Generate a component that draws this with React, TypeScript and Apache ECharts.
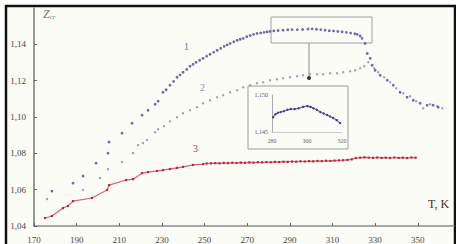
import React, { useEffect, useRef } from "react";
import * as echarts from "echarts";

// ---- data ----
const xTicks = [170, 190, 210, 230, 250, 270, 290, 310, 330, 350];
const yTicks = [1.04, 1.06, 1.08, 1.1, 1.12, 1.14];
const insetXTicks = [280, 300, 320];
const insetYTicks = [1.145, 1.15];

// curve 1
const s1T = [178.4, 188.3, 193.0, 199.1, 204.7, 205.2, 211.3, 216.0, 220.7, 223.5, 226.8, 228.2, 230.5, 232.0, 233.8, 235.5, 237.1, 238.5, 239.9, 241.6, 243.2, 244.6, 246.0, 247.7, 249.3, 251.0, 252.6, 254.3, 255.9, 257.6, 259.2, 260.6, 262.0, 263.7, 265.3, 266.7, 268.1, 269.8, 271.4, 273.0, 274.6, 276.3, 277.9, 279.3, 280.7, 282.5, 284.5, 286.8, 289.0, 291.0, 293.5, 296.0, 298.5, 300.5, 302.5, 304.5, 306.5, 308.5, 310.5, 312.5, 314.5, 316.5, 318.5, 320.5, 321.6, 323.0, 323.9, 325.3, 326.3, 327.7, 328.6, 330.0, 332.4, 335.7, 338.5, 341.7, 345.0, 347.9, 351.1, 354.4, 357.2, 359.6];
const s1Z = [1.0592, 1.0636, 1.0675, 1.0746, 1.0801, 1.0862, 1.0911, 1.0966, 1.101, 1.1037, 1.107, 1.1087, 1.1136, 1.115, 1.1175, 1.1196, 1.1219, 1.1232, 1.1246, 1.1262, 1.1279, 1.129, 1.1301, 1.1312, 1.1323, 1.1335, 1.1345, 1.1357, 1.1367, 1.1378, 1.1389, 1.1397, 1.1405, 1.1414, 1.1422, 1.1428, 1.1433, 1.1442, 1.1449, 1.1455, 1.146, 1.1463, 1.1466, 1.1469, 1.1471, 1.1474, 1.1476, 1.1478, 1.148, 1.1481, 1.1481, 1.1482, 1.1484, 1.1485, 1.1483, 1.1481, 1.1478, 1.1475, 1.1474, 1.1471, 1.1469, 1.1466, 1.1462, 1.1458, 1.1455, 1.1446, 1.1433, 1.1405, 1.135, 1.1323, 1.1285, 1.1257, 1.123, 1.1202, 1.1175, 1.1136, 1.1109, 1.1092, 1.1076, 1.1065, 1.1065, 1.1054];

// curve 2
const s2T = [176.1, 193.0, 201.0, 204.7, 211.3, 216.5, 218.8, 221.1, 223.0, 226.8, 228.2, 231.0, 233.8, 237.1, 239.9, 243.2, 246.5, 249.3, 252.6, 255.9, 258.7, 262.0, 265.3, 268.1, 271.4, 274.6, 277.5, 280.7, 284.0, 286.8, 290.1, 293.4, 296.2, 299.5, 302.8, 305.6, 308.9, 312.2, 315.0, 318.3, 320.6, 323.0, 324.9, 326.8, 329.6, 331.4, 334.2, 337.1, 339.9, 343.2, 346.4, 349.3, 352.5, 355.8, 359.1, 361.5];
const s2Z = [1.0548, 1.0598, 1.0664, 1.0713, 1.0752, 1.0801, 1.0845, 1.0856, 1.0873, 1.0916, 1.0933, 1.0949, 1.0977, 1.0999, 1.1021, 1.1037, 1.1054, 1.1076, 1.1092, 1.1109, 1.112, 1.1136, 1.1147, 1.1164, 1.1175, 1.1186, 1.1191, 1.1202, 1.1208, 1.1213, 1.1219, 1.1224, 1.123, 1.1235, 1.1235, 1.1235, 1.1241, 1.1241, 1.1246, 1.1252, 1.1257, 1.1268, 1.1279, 1.1301, 1.1268, 1.1246, 1.1219, 1.1191, 1.1158, 1.1131, 1.1114, 1.1087, 1.1048, 1.107, 1.1059, 1.1048];

// curve 3
const s3T = [175.2, 178.4, 183.6, 185.9, 188.3, 197.2, 204.3, 205.2, 213.2, 216.5, 220.7, 223.5, 227.7, 230.5, 233.8, 237.1, 239.9, 244.6, 249.3, 251, 253, 255, 257, 259, 261, 263, 265, 267, 269, 271, 273, 275, 277, 279, 281, 283, 285, 287, 289, 291, 293, 295, 297, 299, 301, 303, 305, 307, 309, 311, 313, 315, 317, 319, 321, 323, 325, 327, 329, 331, 333, 335, 337, 339, 341, 343, 345, 347, 349];
const s3Z = [1.0444, 1.0455, 1.0499, 1.051, 1.0537, 1.0554, 1.0598, 1.0625, 1.0653, 1.0658, 1.0691, 1.0697, 1.0703, 1.0708, 1.0714, 1.072, 1.0725, 1.0736, 1.0741, 1.0744, 1.0745, 1.0746, 1.0745, 1.0747, 1.0746, 1.0748, 1.0747, 1.0749, 1.0748, 1.075, 1.0749, 1.0751, 1.075, 1.0752, 1.0751, 1.0753, 1.0752, 1.0754, 1.0753, 1.0755, 1.0754, 1.0756, 1.0755, 1.0757, 1.0756, 1.0758, 1.0757, 1.0759, 1.0758, 1.076, 1.0761, 1.0762, 1.0764, 1.0767, 1.0774, 1.0776, 1.0778, 1.0776, 1.0775, 1.0777, 1.0775, 1.0776, 1.0774, 1.0777, 1.0775, 1.0776, 1.0774, 1.0777, 1.0776];

// inset (zoom of curve 1 peak)
const insetT = [280.6, 282.0, 283.4, 285.0, 286.8, 288.8, 290.7, 293.0, 295.2, 297.8, 300.3, 302.0, 303.7, 305.6, 307.6, 309.5, 311.5, 313.2, 314.9, 317.0, 318.9];
const insetZ = [1.147, 1.1474, 1.1476, 1.1477, 1.1478, 1.148, 1.1481, 1.1481, 1.1482, 1.1484, 1.1485, 1.1484, 1.1482, 1.148, 1.1477, 1.1475, 1.1473, 1.1471, 1.1469, 1.1466, 1.1462];

const zip = (a: number[], b: number[]) => a.map((v, i) => [v, b[i]]);
const serif = "Liberation Serif";

export default function App() {
  const ref = useRef<HTMLDivElement>(null);
  useEffect(() => {
    if (!ref.current) return;
    const chart = echarts.init(ref.current, null, { renderer: "svg" });
    const comma = (d: number) => (v: number) => v.toFixed(d).replace(".", ",");
    chart.setOption({
      animation: false,
      backgroundColor: "#ffffff",
      grid: [
        { left: 34, top: 8, width: 420, height: 218 },
        { left: 272, top: 95, width: 70, height: 37 },
      ],
      xAxis: [
        {
          type: "value", gridIndex: 0, min: 170, max: 367,
          axisLine: { lineStyle: { color: "#8c8c8c", width: 1.5 } },
          axisTick: { inside: true, length: 3, customValues: xTicks, lineStyle: { color: "#666" } },
          axisLabel: { customValues: xTicks, color: "#444", fontSize: 9, fontFamily: serif, margin: 9 },
          splitLine: { show: false },
        },
        {
          type: "value", gridIndex: 1, min: 280, max: 320,
          axisLine: { lineStyle: { color: "#c8c8c8", width: 1 } },
          axisTick: { show: false },
          axisLabel: { customValues: insetXTicks, color: "#666", fontSize: 6, fontFamily: serif, margin: 6 },
          splitLine: { show: false },
        },
      ],
      yAxis: [
        {
          type: "value", gridIndex: 0, min: 1.04, max: 1.16,
          axisLine: { show: true, lineStyle: { color: "#999", width: 2 } },
          axisTick: { show: true, inside: true, length: 3, customValues: yTicks, lineStyle: { color: "#666" } },
          axisLabel: { customValues: yTicks, formatter: comma(2), color: "#444", fontSize: 9, fontFamily: serif, margin: 8 },
          splitLine: { show: false },
        },
        {
          type: "value", gridIndex: 1, min: 1.145, max: 1.15,
          axisLine: { show: true, lineStyle: { color: "#aaa", width: 1 } },
          axisTick: { show: false },
          axisLabel: { customValues: insetYTicks, formatter: comma(3), color: "#555", fontSize: 6, fontFamily: serif, margin: 4 },
          splitLine: { show: false },
        },
      ],
      series: [
        {
          type: "scatter", xAxisIndex: 0, yAxisIndex: 0, data: zip(s2T, s2Z),
          symbol: "circle", symbolSize: 2.4, itemStyle: { color: "#8489a8" }, z: 3,
        },
        {
          type: "scatter", xAxisIndex: 0, yAxisIndex: 0, data: zip(s1T, s1Z),
          symbol: "circle", symbolSize: 2.8, itemStyle: { color: "#46469a" }, z: 4,
        },
        {
          type: "line", xAxisIndex: 0, yAxisIndex: 0, data: zip(s3T, s3Z),
          symbol: "rect", symbolSize: 2.2, showSymbol: true,
          itemStyle: { color: "#b8283c" }, lineStyle: { color: "#d8607a", width: 1.2 }, z: 3,
        },
        {
          type: "line", xAxisIndex: 1, yAxisIndex: 1, data: zip(insetT, insetZ),
          symbol: "circle", symbolSize: 2.4, showSymbol: true,
          itemStyle: { color: "#3f3f8e" }, lineStyle: { color: "#6a6aa8", width: 1.2 }, z: 6,
        },
      ],
      graphic: [
        { type: "rect", z: -10, silent: true, shape: { x: 6, y: 6, width: 449, height: 260 }, style: { fill: "#fcfcf7", stroke: "#111", lineWidth: 2.5 } },
        { type: "rect", z: -5, silent: true, shape: { x: 248, y: 86, width: 100, height: 63 }, style: { fill: "#fcfcf7", stroke: "#9c9c9c", lineWidth: 1 } },
        { type: "rect", z: 1, silent: true, shape: { x: 271, y: 17, width: 101, height: 26 }, style: { fill: "none", stroke: "#a0a0a0", lineWidth: 1 } },
        { type: "line", z: 1, silent: true, shape: { x1: 309, y1: 43, x2: 309, y2: 77 }, style: { stroke: "#888", lineWidth: 1 } },
        { type: "circle", z: 5, silent: true, shape: { cx: 309, cy: 78, r: 2 }, style: { fill: "#333" } },
        { type: "text", z: 5, silent: true, left: 43, top: 8, style: { text: "{z|Z}{s|cr}", rich: { z: { fontStyle: "italic", fontFamily: serif, fontSize: 12, fill: "#777" }, s: { fontStyle: "italic", fontFamily: serif, fontSize: 7, fill: "#777", padding: [6, 0, 0, 0] } } } },
        { type: "text", z: 5, silent: true, left: 428, top: 198, style: { text: "T, K", fontFamily: serif, fontSize: 12, fill: "#333" } },
        { type: "text", z: 5, silent: true, left: 184, top: 41, style: { text: "1", fontFamily: serif, fontSize: 10, fill: "#6b6bb0" } },
        { type: "text", z: 5, silent: true, left: 200, top: 82, style: { text: "2", fontFamily: serif, fontSize: 10, fill: "#8a8fa8" } },
        { type: "text", z: 5, silent: true, left: 193, top: 143, style: { text: "3", fontFamily: serif, fontSize: 10, fill: "#c0304a" } },
      ],
    });
    return () => chart.dispose();
  }, []);
  return <div ref={ref} style={{ position: "fixed", left: 0, top: 0, width: 456, height: 244 }} />;
}
